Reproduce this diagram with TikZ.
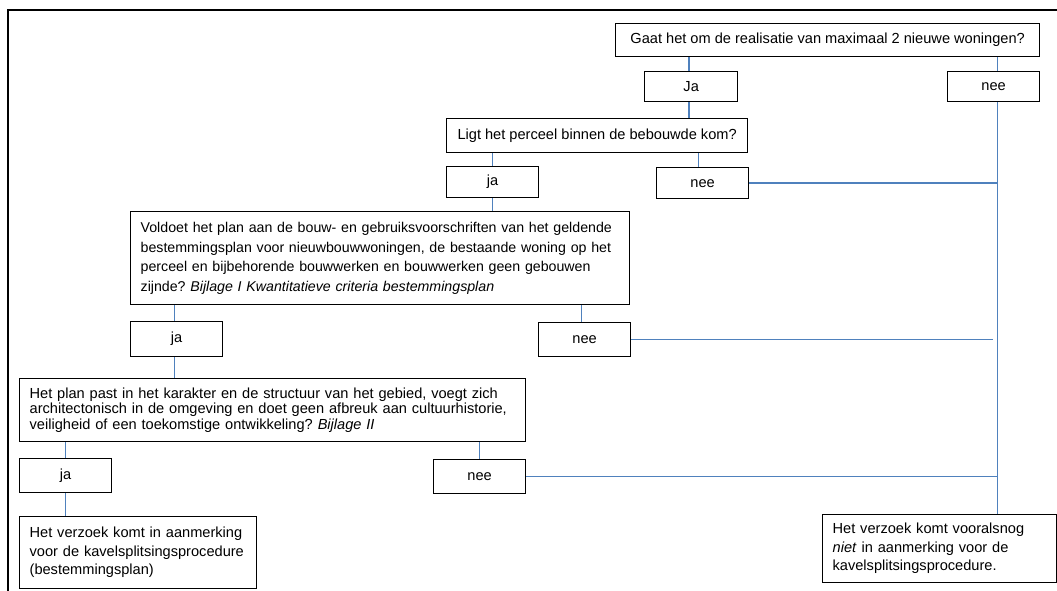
\documentclass[tikz,border=0pt]{standalone}
\usepackage{fontspec}
\setmainfont{Liberation Sans}
\definecolor{connblue}{RGB}{79,129,189}
\begin{document}
\frenchspacing
\begin{tikzpicture}[x=1pt,y=-1pt,
  box/.style={draw=black, line width=1.3pt, inner sep=0pt, anchor=north west,
    font=\fontsize{14.6}{18}\selectfont},
  lbox/.style={box, align=left},
  conn/.style={draw=connblue, line width=1.6pt}]
\useasboundingbox (0,0) rectangle (1057,591);
\draw[line width=2pt] (8,591) -- (8,10) -- (1057,10);

\node[box, minimum width=424, minimum height=33] (q1) at (615,23) {Gaat het om de realisatie van maximaal 2 nieuwe woningen?};
\node[box, minimum width=93, minimum height=30] (ja1) at (644,71) {Ja};
\node[box, minimum width=92, minimum height=30] (nee1) at (947,71) {nee};
\node[box, minimum width=301, minimum height=34] (q2) at (446,118) {Ligt het perceel binnen de bebouwde kom?};
\node[box, minimum width=92, minimum height=31] (ja2) at (446,166) {ja};
\node[box, minimum width=92, minimum height=31] (nee2) at (656,167) {nee};
\node[lbox, minimum width=499, minimum height=93, text width=479,
  font=\fontsize{14.2}{19.5}\selectfont] (q3) at (130,211)
  {Voldoet het plan aan de bouw- en gebruiksvoorschriften van het geldende\\
   bestemmingsplan voor nieuwbouwwoningen, de bestaande woning op het\\
   perceel en bijbehorende bouwwerken en bouwwerken geen gebouwen\\
   zijnde? \textit{Bijlage I Kwantitatieve criteria bestemmingsplan}};
\node[box, minimum width=92, minimum height=35] (ja3) at (130,321) {ja};
\node[box, minimum width=92, minimum height=34] (nee3) at (538,322) {nee};
\node[lbox, minimum width=506, minimum height=63, text width=486,
  font=\fontsize{14.6}{15.5}\selectfont] (q4) at (19,378)
  {Het plan past in het karakter en de structuur van het gebied, voegt zich\\
   architectonisch in de omgeving en doet geen afbreuk aan cultuurhistorie,\\
   veiligheid of een toekomstige ontwikkeling? \textit{Bijlage II}};
\node[box, minimum width=92, minimum height=34] (ja4) at (19,458) {ja};
\node[box, minimum width=92, minimum height=34] (nee4) at (433,459) {nee};
\node[lbox, minimum width=237, minimum height=72, text width=217,
  font=\fontsize{14.6}{18.5}\selectfont] (res1) at (19,516)
  {Het verzoek komt in aanmerking\\
   voor de kavelsplitsingsprocedure\\
   (bestemmingsplan)\\[6pt]};
\node[lbox, minimum width=234, minimum height=68, text width=214,
  font=\fontsize{14.6}{18.5}\selectfont] (res2) at (822,514)
  {Het verzoek komt vooralsnog\\
   \textit{niet} in aanmerking voor de\\
   kavelsplitsingsprocedure.\\[4pt]};

\coordinate (vl) at ([xshift=4pt]nee1.south);

\draw[conn] ([xshift=-2pt]ja1.north |- q1.south) -- ([xshift=-2pt]ja1.north);
\draw[conn] (vl |- q1.south) -- (vl |- nee1.north);
\draw[conn] ([xshift=-2pt]ja1.south) -- ([xshift=-2pt]ja1.south |- q2.north);
\draw[conn] (ja2.north |- q2.south) -- (ja2.north);
\draw[conn] ([xshift=-4pt]nee2.north |- q2.south) -- ([xshift=-4pt]nee2.north);
\draw[conn] (vl) -- (vl |- res2.north);
\draw[conn] (nee2.east) -- (nee2.east -| vl);
\draw[conn] (ja2.south) -- (ja2.south |- q3.north);
\draw[conn] ([xshift=-2pt]ja3.north |- q3.south) -- ([xshift=-2pt]ja3.north);
\draw[conn] ([xshift=-3pt]nee3.north |- q3.south) -- ([xshift=-3pt]nee3.north);
\draw[conn] (nee3.east) -- ([xshift=-5pt]nee3.east -| vl);
\draw[conn] ([xshift=-2pt]ja3.south) -- ([xshift=-2pt]ja3.south |- q4.north);
\draw[conn] (ja4.north |- q4.south) -- (ja4.north);
\draw[conn] (nee4.north |- q4.south) -- (nee4.north);
\draw[conn] (nee4.east) -- (nee4.east -| vl);
\draw[conn] (ja4.south) -- (ja4.south |- res1.north);
\end{tikzpicture}
\end{document}
